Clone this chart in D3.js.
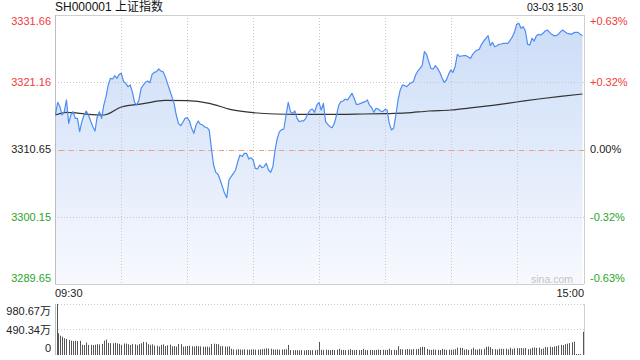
<!DOCTYPE html>
<html><head><meta charset="utf-8">
<script src="https://cdn.jsdelivr.net/npm/d3@7"></script>
<style>html,body{margin:0;padding:0;background:#fff;} svg{display:block;font-family:"Liberation Sans",Arial,"Noto Sans CJK SC",sans-serif;}</style>
</head><body><svg id="c" width="640" height="360"></svg>
<script>
const title = "SH000001 上证指数";
const stamp = "03-03 15:30";
const prevClose = 3310.65;
const priceTicks = [3331.66, 3321.16, 3310.65, 3300.15, 3289.65];
const pctTicks = ["+0.63%", "+0.32%", "0.00%", "-0.32%", "-0.63%"];
const timeLabels = ["09:30", "15:00"];
const volTickLabels = ["980.67万", "490.34万", "0"];
const volTicks = [980.67, 490.34, 0];
const watermark = "sina.com";

// minute-by-minute index price, 09:30 .. 15:00 (241 points)
const prices = [
3316.15,3318.02,3317.34,3316.04,3316.56,3318.39,3314.74,3316.04,3316.56,3315.52,
3315.52,3313.44,3315.00,3316.04,3316.67,3316.04,3315.11,3314.22,3313.54,3315.78,
3316.56,3315.52,3317.60,3318.91,3320.73,3321.77,3321.67,3322.19,3321.77,3322.39,
3322.55,3321.25,3320.99,3320.47,3320.73,3319.69,3318.02,3317.60,3318.39,3320.21,
3320.73,3321.14,3321.35,3321.09,3322.39,3322.71,3322.81,3323.23,3322.91,3322.81,
3322.03,3320.99,3319.95,3318.91,3317.86,3316.04,3314.74,3314.38,3314.90,3315.52,
3315.63,3315.11,3313.96,3313.18,3314.48,3315.11,3314.59,3314.48,3314.17,3314.06,
3313.70,3310.84,3308.23,3307.09,3306.78,3305.89,3304.85,3303.81,3303.13,3305.89,
3306.41,3306.93,3307.45,3308.75,3309.80,3309.54,3310.06,3310.06,3309.17,3309.38,
3309.02,3307.71,3307.61,3308.23,3307.82,3307.97,3308.49,3307.45,3307.09,3307.97,
3310.58,3312.40,3313.44,3313.75,3313.86,3316.04,3318.02,3316.56,3316.30,3316.67,
3315.52,3315.00,3315.11,3315.11,3315.52,3316.30,3316.82,3316.98,3316.46,3317.60,
3318.02,3316.82,3317.86,3315.00,3314.59,3314.22,3314.06,3314.74,3316.04,3317.60,
3318.13,3318.23,3318.54,3318.39,3318.91,3319.43,3318.65,3317.71,3317.71,3317.86,
3318.02,3318.13,3318.39,3317.60,3317.19,3316.46,3317.08,3316.98,3316.67,3316.56,
3316.93,3316.82,3314.74,3313.70,3313.96,3316.04,3318.39,3319.95,3320.73,3320.62,
3320.47,3320.83,3321.09,3321.25,3322.29,3322.91,3323.33,3323.75,3325.93,3325.52,
3324.37,3323.33,3323.23,3323.75,3323.33,3322.71,3321.87,3321.14,3321.51,3322.39,
3323.07,3322.71,3323.59,3325.52,3325.20,3325.26,3325.31,3325.31,3325.10,3324.89,
3325.52,3325.93,3326.19,3326.30,3327.08,3327.60,3328.02,3328.43,3326.87,3327.39,
3326.71,3326.87,3327.08,3327.13,3327.24,3327.24,3327.24,3327.70,3328.22,3328.95,
3330.20,3330.36,3329.58,3329.84,3329.16,3327.08,3326.97,3328.02,3327.60,3328.43,
3328.64,3328.54,3328.80,3329.16,3329.32,3328.95,3328.64,3328.43,3328.43,3328.64,
3329.06,3329.32,3329.06,3328.80,3328.74,3328.64,3328.90,3328.95,3328.95,3328.64,
3328.43
];

// average price line, read at these minutes
const avgMinutes = [0, 5, 10, 15, 22, 30, 40, 50, 60, 70, 80, 90, 100, 110, 120, 130, 140, 150, 160, 170, 180, 190, 200, 210, 220, 230, 240];
const avgValues = [3316.04, 3316.46, 3316.35, 3316.15, 3316.04, 3317.29, 3317.81, 3318.33, 3318.28, 3317.86, 3316.88, 3316.41, 3316.20, 3316.15, 3316.15, 3316.15, 3316.20, 3316.25, 3316.36, 3316.67, 3316.82, 3317.19, 3317.60, 3318.07, 3318.54, 3318.96, 3319.32];

// per-minute volume (万)
const volumes = [
980.67,420,372,352,322,308,290,276,270,274,
268,272,196,192,238,194,196,190,198,208,
202,214,276,296,232,228,226,234,224,214,
196,222,218,206,192,214,206,188,210,226,
252,246,208,196,204,182,178,164,196,204,
172,186,200,168,172,162,212,208,160,166,
174,178,168,162,176,170,166,160,158,162,
150,212,218,210,206,168,172,164,160,166,
120,108,104,112,106,102,110,104,100,106,
110,104,102,108,112,118,128,124,120,106,
104,108,102,106,110,112,194,96,92,94,
90,92,94,88,92,96,90,94,92,98,
252,100,96,104,98,92,100,96,102,120,
96,98,94,100,112,96,92,98,94,96,
118,96,94,100,96,92,98,104,96,100,
94,98,120,96,100,94,170,112,108,104,
116,110,106,114,112,120,150,160,154,118,
102,98,108,104,100,96,118,104,98,102,
100,104,112,142,138,136,104,110,98,112,
140,108,104,116,110,120,158,164,152,116,
112,104,120,118,116,122,108,140,112,128,
132,130,134,126,136,112,120,140,144,138,
142,116,124,156,150,160,152,164,172,184,
196,190,210,218,230,246,256,0,0,0,
448
];

const svg = d3.select("#c");
const L = 55, R = 584, T = 15, B = 284;
const VT = 304, VB = 355;
const x = d3.scaleLinear().domain([0, 240]).range([L + 0.5, R - 1.5]);
const y = d3.scaleLinear().domain([priceTicks[4], priceTicks[0]]).range([B, T]);
const yv = d3.scaleLinear().domain([0, volTicks[0]]).range([VB, VT]);
const red = "#f23a3a", green = "#2aa52a", black = "#222";
const colorFor = v => v > prevClose + 1e-6 ? red : (v < prevClose - 1e-6 ? green : black);

// gradient
const defs = svg.append("defs");
const grad = defs.append("linearGradient").attr("id", "g").attr("gradientUnits", "userSpaceOnUse")
  .attr("x1", 0).attr("x2", 0).attr("y1", T).attr("y2", B);
grad.append("stop").attr("offset", "0%").attr("stop-color", "#cbdcf7");
grad.append("stop").attr("offset", "100%").attr("stop-color", "#f7f9fe");

// area
svg.append("path").datum(prices)
  .attr("d", d3.area().x((d, i) => x(i)).y0(B).y1(d => y(d)))
  .attr("fill", "url(#g)");

// vertical grid
const grid = svg.append("g").attr("stroke", "#c8c8c8").attr("stroke-dasharray", "1,2").attr("stroke-width", 1);
d3.range(30, 240, 30).forEach(m => {
  const xx = Math.round(x(m)) + 0.5;
  grid.append("line").attr("x1", xx).attr("x2", xx).attr("y1", T).attr("y2", B);
});
// horizontal grid
priceTicks.slice(1, 4).forEach(v => {
  const yy = Math.round(y(v)) + 0.5;
  grid.append("line").attr("x1", L).attr("x2", R).attr("y1", yy).attr("y2", yy);
});
// prev close line
svg.append("line").attr("x1", L + 4).attr("x2", R).attr("y1", Math.round(y(prevClose)) + 0.5).attr("y2", Math.round(y(prevClose)) + 0.5)
  .attr("stroke", "#f0a07a").attr("stroke-width", 1).attr("stroke-dasharray", "5,5");

// frame
const frame = svg.append("g").attr("stroke", "#cfcfcf").attr("fill", "none").attr("shape-rendering", "crispEdges");
frame.append("line").attr("x1", L).attr("x2", R).attr("y1", T).attr("y2", T);
frame.append("line").attr("x1", L).attr("x2", R).attr("y1", B).attr("y2", B);
frame.append("line").attr("x1", R).attr("x2", R).attr("y1", T).attr("y2", B);
frame.append("line").attr("x1", L).attr("x2", L).attr("y1", T).attr("y2", B).attr("stroke", "#bdbdbd");

// avg line
svg.append("path").datum(avgMinutes.map((m, i) => [m, avgValues[i]]))
  .attr("d", d3.line().x(d => x(d[0])).y(d => y(d[1])).curve(d3.curveMonotoneX))
  .attr("fill", "none").attr("stroke", "#333").attr("stroke-width", 1.2);

// price line
svg.append("path").datum(prices)
  .attr("d", d3.line().x((d, i) => x(i)).y(d => y(d)))
  .attr("fill", "none").attr("stroke", "#4d8df2").attr("stroke-width", 1.2).attr("stroke-linejoin", "round");

// left / right labels
const labY = v => {
  const yy = y(v);
  return Math.min(Math.max(yy, T + 6), B - 6);
};
priceTicks.forEach((v, i) => {
  svg.append("text").attr("x", 51).attr("y", labY(v)).attr("dy", "0.35em").attr("text-anchor", "end")
    .attr("font-size", 11).attr("fill", colorFor(v)).text(v.toFixed(2));
  svg.append("text").attr("x", 590).attr("y", labY(v)).attr("dy", "0.35em").attr("text-anchor", "start")
    .attr("font-size", 11).attr("fill", colorFor(v)).text(pctTicks[i]);
});

// title & time stamp
svg.append("text").attr("x", L).attr("y", 11).attr("font-size", 12).attr("fill", "#111").text(title);
svg.append("text").attr("x", R - 1).attr("y", 11).attr("text-anchor", "end").attr("font-size", 10.5).attr("fill", "#111").text(stamp);

// watermark
svg.append("text").attr("x", 573).attr("y", 279).attr("dy", "0.35em").attr("text-anchor", "end")
  .attr("font-size", 10.5).attr("fill", "#c4c4c4").text(watermark);

// time labels
svg.append("text").attr("x", L).attr("y", 293.5).attr("dy", "0.35em").attr("font-size", 11).attr("fill", "#222").text(timeLabels[0]);
svg.append("text").attr("x", R).attr("y", 293.5).attr("dy", "0.35em").attr("text-anchor", "end").attr("font-size", 11).attr("fill", "#222").text(timeLabels[1]);

// volume panel
const vg = svg.append("g");
[volTicks[0], volTicks[1]].forEach(v => {
  const yy = Math.round(yv(v)) + 0.5;
  vg.append("line").attr("x1", L).attr("x2", R).attr("y1", yy).attr("y2", yy)
    .attr("stroke", "#c8c8c8").attr("stroke-dasharray", "1,2");
});
vg.append("line").attr("x1", L + 0.5).attr("x2", L + 0.5).attr("y1", VT).attr("y2", VB).attr("stroke", "#bdbdbd");
vg.append("line").attr("x1", R + 0.5).attr("x2", R + 0.5).attr("y1", VT).attr("y2", VB).attr("stroke", "#cfcfcf");
vg.selectAll("rect.v").data(volumes).enter().append("rect")
  .attr("x", (d, i) => Math.round(x(i)) + (i === 0 ? 1 : 0))
  .attr("width", 1)
  .attr("y", d => Math.min(yv(d), VB - 1))
  .attr("height", d => Math.max(1, VB - yv(d)))
  .attr("fill", "#555");
const volLabY = [311.5, 330, 348.5];
volTickLabels.forEach((t, i) => {
  svg.append("text").attr("x", 51).attr("y", volLabY[i]).attr("dy", "0.35em").attr("text-anchor", "end")
    .attr("font-size", 11).attr("fill", "#222").text(t);
});
</script></body></html>
